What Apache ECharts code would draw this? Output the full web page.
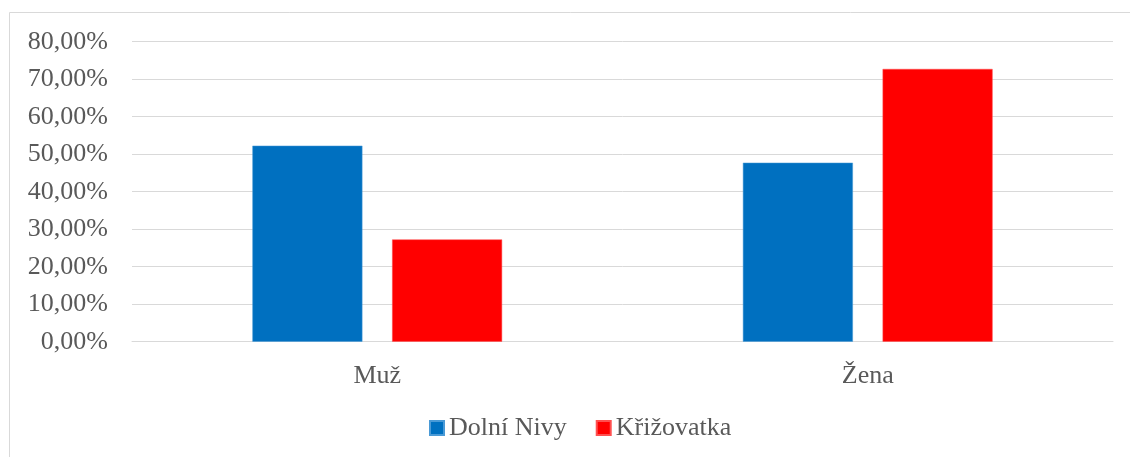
<!DOCTYPE html>
<html>
<head>
<meta charset="utf-8">
<script src="https://cdn.jsdelivr.net/npm/echarts@6/dist/echarts.min.js"></script>
<style>
html,body{margin:0;padding:0;background:#fff;}
#chart{width:1130px;height:457px;}
</style>
</head>
<body>
<div id="chart"></div>
<script>
const categories = ['Muž', 'Žena'];
const seriesNames = ['Dolní Nivy', 'Křižovatka'];
const dolniNivy = [52.27, 47.73];
const krizovatka = [27.27, 72.73];
const yTicks = [0, 10, 20, 30, 40, 50, 60, 70, 80];

const FONT = "'Liberation Serif', 'Times New Roman', serif";
const TXT = '#595959';

const chart = echarts.init(document.getElementById('chart'));
chart.setOption({
  animation: false,
  backgroundColor: '#ffffff',
  graphic: [{
    type: 'rect',
    shape: { x: 9.5, y: 12.5, width: 1300, height: 600 },
    style: { fill: 'none', stroke: '#d9d9d9', lineWidth: 1 },
    silent: true,
    z: -10
  }],
  grid: { left: 132, right: 17, top: 41.7, bottom: 115.3, containLabel: false },
  legend: {
    data: seriesNames,
    left: 429,
    top: 415,
    padding: 0,
    icon: 'rect',
    itemWidth: 14,
    itemHeight: 14,
    itemGap: 29,
    textStyle: { fontFamily: FONT, fontSize: 26, color: TXT, padding: [0, 0, 0, 0] }
  },
  xAxis: {
    type: 'category',
    data: categories,
    axisLine: { show: true, lineStyle: { color: '#d9d9d9', width: 1 } },
    axisTick: { show: false },
    axisLabel: { fontFamily: FONT, fontSize: 26, color: TXT, margin: 21 }
  },
  yAxis: {
    type: 'value',
    min: yTicks[0],
    max: yTicks[yTicks.length - 1],
    interval: yTicks[1] - yTicks[0],
    axisLine: { show: false },
    axisTick: { show: false },
    splitLine: { lineStyle: { color: '#d9d9d9', width: 1 } },
    axisLabel: {
      fontFamily: FONT, fontSize: 26, color: TXT, margin: 24,
      formatter: v => v.toFixed(2).replace('.', ',') + '%'
    }
  },
  series: [
    {
      name: seriesNames[0], type: 'bar', data: dolniNivy,
      barWidth: 110, barGap: '27%',
      itemStyle: { color: '#0070c0', borderColor: '#4a9ad6', borderWidth: 0.5 }
    },
    {
      name: seriesNames[1], type: 'bar', data: krizovatka,
      barWidth: 110,
      itemStyle: { color: '#ff0000', borderColor: '#ff5050', borderWidth: 0.5 }
    }
  ]
});
</script>
</body>
</html>
